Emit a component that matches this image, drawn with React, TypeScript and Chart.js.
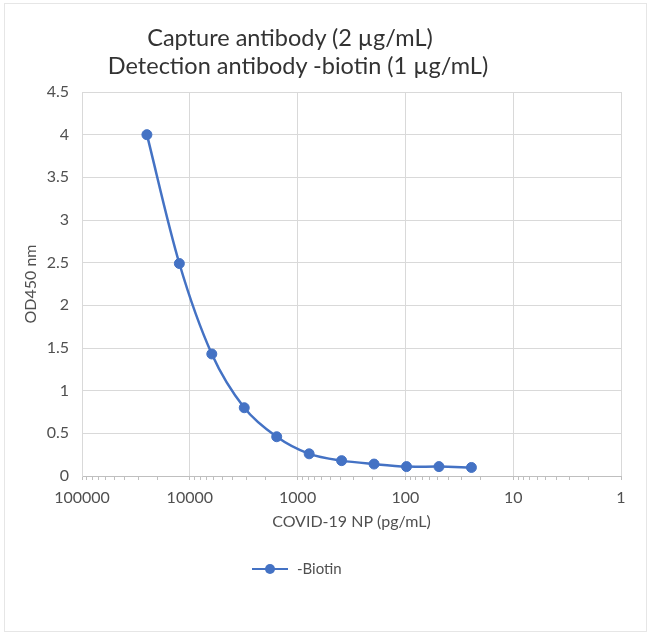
import React, { useEffect, useRef } from "react";
import { Chart, registerables } from "chart.js";

Chart.register(...registerables);

// ---- Data ----
const titleLines = ["Capture antibody (2 µg/mL)", "Detection antibody -biotin (1 µg/mL)"];
const seriesName = "-Biotin";
const xAxisTitle = "COVID-19 NP (pg/mL)";
const yAxisTitle = "OD450 nm";
const concentrations = [25000, 12500, 6250, 3125, 1562.5, 781.25, 390.63, 195.31, 97.66, 48.83, 24.41];
const od450 = [4.0, 2.49, 1.43, 0.8, 0.46, 0.26, 0.18, 0.14, 0.11, 0.11, 0.1];
const xMajorTicks = [1, 10, 100, 1000, 10000, 100000];
const xMinorMultipliers = [2, 3, 4, 5, 6, 7, 8, 9];
const yTicks = [0, 0.5, 1, 1.5, 2, 2.5, 3, 3.5, 4, 4.5];

const BLUE = "#4472C4";
const TEXT = "#505050";
const FONT = "Lato, 'Open Sans', sans-serif";

const isMajor = (v: number) => xMajorTicks.some((m) => Math.abs(m - v) < 1e-6);

export default function App() {
  const canvasRef = useRef<HTMLCanvasElement | null>(null);

  useEffect(() => {
    const canvas = canvasRef.current;
    if (!canvas) return;
    const xTickValues: number[] = [];
    xMajorTicks.forEach((m) => {
      xTickValues.push(m);
      if (m < 100000) xMinorMultipliers.forEach((k) => xTickValues.push(k * m));
    });
    xTickValues.sort((a, b) => a - b);

    const chart = new Chart(canvas, {
      type: "line",
      data: {
        datasets: [
          {
            label: seriesName,
            data: concentrations.map((c, i) => ({ x: c, y: od450[i] })),
            borderColor: BLUE,
            backgroundColor: BLUE,
            borderWidth: 2.5,
            pointRadius: 5,
            pointBackgroundColor: BLUE,
            pointBorderColor: BLUE,
            pointBorderWidth: 1,
            tension: 0.3,
            fill: false,
          },
        ],
      },
      options: {
        responsive: false,
        animation: false,
        layout: { padding: { left: 0, right: 29, top: 92, bottom: 104 } },
        plugins: {
          legend: { display: false },
          title: { display: false },
          tooltip: { enabled: false },
        },
        scales: {
          x: {
            type: "logarithmic",
            reverse: true,
            min: 1,
            max: 100000,
            afterBuildTicks: (s: any) => {
              s.ticks = xTickValues.map((v) => ({ value: v, major: isMajor(v) }));
            },
            afterFit: (s: any) => {
              s.height = 55;
            },
            ticks: {
              autoSkip: false,
              maxRotation: 0,
              minRotation: 0,
              padding: 8,
              color: TEXT,
              font: { family: FONT, size: 16 },
              callback: (v: any) => (isMajor(Number(v)) ? String(Math.round(Number(v))) : ""),
            },
            grid: {
              color: (ctx: any) => (ctx.tick && isMajor(ctx.tick.value) ? "#d9d9d9" : "rgba(0,0,0,0)"),
              tickColor: "#bfbfbf",
              tickLength: 4,
              lineWidth: 1,
            },
            border: { color: "#bfbfbf" },
            title: {
              display: true,
              text: xAxisTitle,
              color: TEXT,
              font: { family: FONT, size: 16 },
              padding: { top: 0, bottom: 0 },
            },
          },
          y: {
            type: "linear",
            min: 0,
            max: 4.5,
            afterBuildTicks: (s: any) => {
              s.ticks = yTicks.map((v) => ({ value: v }));
            },
            afterFit: (s: any) => {
              s.width = 82;
            },
            ticks: {
              padding: 13,
              color: TEXT,
              font: { family: FONT, size: 16 },
              callback: (v: any) => String(Number(v)),
            },
            grid: { color: "#d9d9d9", drawTicks: false, lineWidth: 1 },
            border: { color: "#d9d9d9" },
            title: {
              display: true,
              text: yAxisTitle,
              color: TEXT,
              font: { family: FONT, size: 16 },
              padding: { top: 21, bottom: 0 },
            },
          },
        },
      },
    } as any);
    return () => chart.destroy();
  }, []);

  const titleStyle = (center: number, top: number): React.CSSProperties => ({
    position: "absolute",
    left: center - 300,
    top,
    width: 600,
    textAlign: "center",
    fontFamily: FONT,
    fontSize: 23.5,
    lineHeight: "28px",
    color: "#333333",
    whiteSpace: "nowrap",
  });

  return (
    <div style={{ position: "absolute", left: 0, top: 0, width: 650, height: 635, background: "#fff" }}>
      <div
        style={{
          position: "absolute",
          left: 4,
          top: 3,
          width: 643,
          height: 629,
          boxSizing: "border-box",
          border: "1px solid #e6e6e6",
        }}
      />
      <canvas
        ref={canvasRef}
        width={650}
        height={635}
        style={{ position: "absolute", left: 0, top: 0, width: 650, height: 635 }}
      />
      <div style={titleStyle(290, 23)}>{titleLines[0]}</div>
      <div style={titleStyle(298, 51)}>{titleLines[1]}</div>
      <div style={{ position: "absolute", left: 252, top: 567.75, width: 36, height: 2.5, background: BLUE }} />
      <div
        style={{
          position: "absolute",
          left: 265,
          top: 564,
          width: 10,
          height: 10,
          borderRadius: "50%",
          background: BLUE,
        }}
      />
      <div
        style={{
          position: "absolute",
          left: 297,
          top: 558,
          fontFamily: FONT,
          fontSize: 15,
          lineHeight: "20px",
          color: TEXT,
          whiteSpace: "nowrap",
        }}
      >
        {seriesName}
      </div>
    </div>
  );
}
